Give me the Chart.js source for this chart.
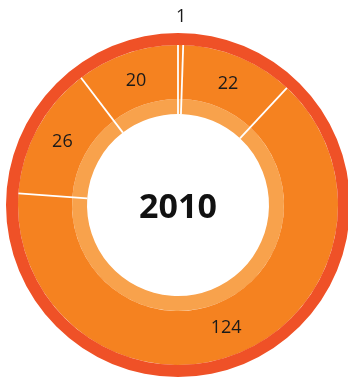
<!DOCTYPE html>
<html>
<head>
<meta charset="utf-8">
<script src="https://cdn.jsdelivr.net/npm/chart.js@4.4.0/dist/chart.umd.min.js"></script>
<style>
  html, body { margin: 0; padding: 0; background: #fff; overflow: hidden; }
  #wrap { width: 352px; height: 379px; }
</style>
</head>
<body>
<div id="wrap"><canvas id="grafica" width="352" height="379"></canvas></div>
<script>
// Datos del anillo (en sentido horario desde arriba)
const etiquetas = ['A', 'B', 'C', 'D', 'E'];
const valores = [1, 22, 124, 26, 20];
const anio = '2010';

const total = valores.reduce((a, b) => a + b, 0);

// Colores
const colorBorde = '#ef5127';
const colorPrincipal = '#f58220';
const colorInterior = '#f8a24c';

// Separadores blancos y etiquetas de valor
const pluginEtiquetas = {
    id: 'etiquetas',
    afterDatasetsDraw(chart) {
        const ctx = chart.ctx;
        const metaExterior = chart.getDatasetMeta(0);
        const metaPrincipal = chart.getDatasetMeta(1);
        const metaInterior = chart.getDatasetMeta(2);
        const arcos = metaPrincipal.data;
        const cx = arcos[0].x;
        const cy = arcos[0].y;
        const rInterior = metaInterior.data[0].innerRadius;
        const rPrincipal = arcos[0].outerRadius;
        const rExterior = metaExterior.data[0].outerRadius;

        // líneas entre sectores
        ctx.save();
        ctx.strokeStyle = '#ffffff';
        ctx.lineWidth = 1.8;
        arcos.forEach(arco => {
            const a = arco.startAngle;
            ctx.beginPath();
            ctx.moveTo(cx + Math.cos(a) * rInterior, cy + Math.sin(a) * rInterior);
            ctx.lineTo(cx + Math.cos(a) * rPrincipal, cy + Math.sin(a) * rPrincipal);
            ctx.stroke();
        });

        // valores
        ctx.fillStyle = '#1a1a1a';
        ctx.font = '18px "Open Sans", sans-serif';
        ctx.textAlign = 'center';
        ctx.textBaseline = 'middle';
        arcos.forEach((arco, i) => {
            const medio = (arco.startAngle + arco.endAngle) / 2;
            const pequeno = (arco.endAngle - arco.startAngle) < 0.1;
            const r = pequeno ? rExterior + 16 : (rInterior + rExterior) / 2;
            ctx.fillText(String(valores[i]), cx + Math.cos(medio) * r, cy + Math.sin(medio) * r);
        });

        // año al centro
        ctx.font = 'bold 34px "Open Sans", sans-serif';
        ctx.fillStyle = '#111111';
        ctx.fillText(anio, cx, cy + 3);
        ctx.restore();
    }
};

new Chart(document.getElementById('grafica'), {
    type: 'doughnut',
    data: {
        labels: etiquetas,
        datasets: [
            {
                label: 'Total',
                data: [total],
                backgroundColor: colorBorde,
                borderWidth: 0,
                weight: 12
            },
            {
                label: 'Valores',
                data: valores,
                backgroundColor: colorPrincipal,
                borderWidth: 0,
                weight: 54
            },
            {
                label: 'Interior',
                data: valores,
                backgroundColor: colorInterior,
                borderWidth: 0,
                weight: 15
            }
        ]
    },
    options: {
        responsive: false,
        animation: false,
        events: [],
        cutout: 91,
        hoverOffset: 0,
        layout: { padding: { left: 6, right: 2, top: 33, bottom: 2 } },
        plugins: {
            legend: { display: false },
            tooltip: { enabled: false }
        }
    },
    plugins: [pluginEtiquetas]
});
</script>
</body>
</html>
